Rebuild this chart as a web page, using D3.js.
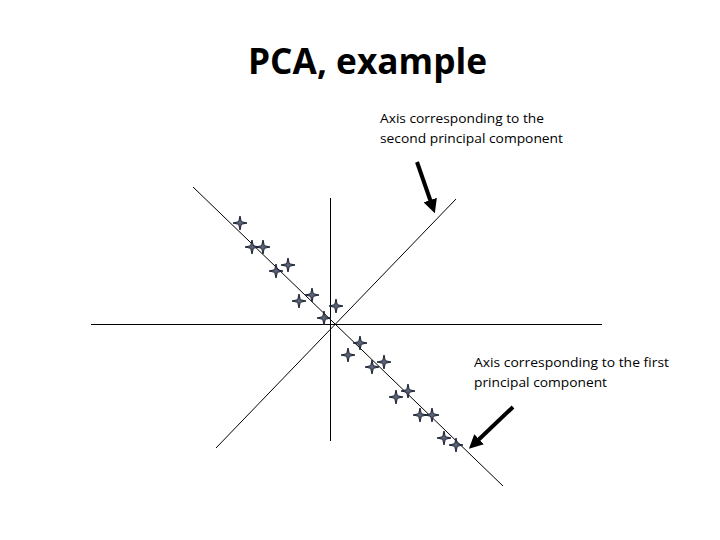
<!DOCTYPE html>
<html>
<head>
<meta charset="utf-8">
<script src="https://cdn.jsdelivr.net/npm/d3@7"></script>
<style>
  body { margin: 0; background: #fff; }
  svg text { font-family: 'Open Sans', Lato, sans-serif; fill: #000; }
</style>
</head>
<body>
<div id="chart"></div>
<script>
// sample points (x, y) in plot units, origin at axes crossing
const pointsX = [-9.0, -7.8, -6.7, -5.4, -4.2, -3.1, -1.8, -0.6, 0.6, 3.0, 1.8, 4.2, 5.4, 6.6, 7.8, 9.0, 10.2, 11.4, 12.6]
const pointsY = [10.1, 7.7, 7.7, 5.3, 5.9, 2.3, 2.9, 0.6, 1.8, -1.9, -3.1, -4.3, -3.8, -7.3, -6.7, -9.1, -9.1, -11.4, -12.1]

// axis lines: [x1, y1, x2, y2]
const plainAxes = [[-24, 0, 27.1, 0], [0, 12.7, 0, -11.6]]
const pcAxes = [[-13.7, 13.7, 17.3, -16.2], [-11.4, -12.4, 12.6, 12.5]]

// arrows: [fromX, fromY, toX, toY]
const arrows = [[8.7, 16.2, 10.3, 11.6], [18.3, -8.3, 14.3, -12.1]]

const title = 'PCA, example'
const labelSecond = ['Axis corresponding to the', 'second principal component']
const labelFirst = ['Axis corresponding to the first', 'principal component']

const width = 720
const height = 540

const svg = d3.select('#chart').append('svg')
  .attr('width', width)
  .attr('height', height)

// 10 px per unit, origin at (330, 324)
const x = d3.scaleLinear().domain([-24, 28]).range([90, 610])
const y = d3.scaleLinear().domain([-17, 17]).range([494, 154])

svg.append('text')
  .attr('x', 248)
  .attr('y', 74)
  .attr('textLength', 239)
  .attr('lengthAdjust', 'spacingAndGlyphs')
  .style('font-size', '36px')
  .style('font-weight', 'bold')
  .text(title)

svg.append('g').selectAll('line').data(plainAxes)
  .enter().append('line')
  .attr('x1', d => x(d[0]) + 0.5)
  .attr('y1', d => y(d[1]) + 0.5)
  .attr('x2', d => x(d[2]) + 0.5)
  .attr('y2', d => y(d[3]) + 0.5)
  .attr('stroke', '#000')
  .attr('stroke-width', 1)
  .attr('shape-rendering', 'crispEdges')

svg.append('g').selectAll('line').data(pcAxes)
  .enter().append('line')
  .attr('x1', d => x(d[0]))
  .attr('y1', d => y(d[1]))
  .attr('x2', d => x(d[2]))
  .attr('y2', d => y(d[3]))
  .attr('stroke', '#000')
  .attr('stroke-width', 1)

svg.append('defs').append('marker')
  .attr('id', 'head')
  .attr('viewBox', '0 0 10 10')
  .attr('refX', 6)
  .attr('refY', 5)
  .attr('markerWidth', 3.5)
  .attr('markerHeight', 3.5)
  .attr('orient', 'auto')
  .append('path')
  .attr('d', 'M0,0 L10,5 L0,10 Z')
  .attr('fill', '#000')

svg.append('g').selectAll('line').data(arrows)
  .enter().append('line')
  .attr('x1', d => x(d[0]))
  .attr('y1', d => y(d[1]))
  .attr('x2', d => x(d[2]))
  .attr('y2', d => y(d[3]))
  .attr('stroke', '#000')
  .attr('stroke-width', 4)
  .attr('marker-end', 'url(#head)')

const star = 'M0,-7 L1.3,-1.3 L7,0 L1.3,1.3 L0,7 L-1.3,1.3 L-7,0 L-1.3,-1.3 Z'
svg.append('g').selectAll('path').data(pointsX)
  .enter().append('path')
  .attr('d', star)
  .attr('transform', (d, i) => `translate(${x(d)},${y(pointsY[i])})`)
  .attr('fill', '#5d6678')
  .attr('stroke', '#1c2233')
  .attr('stroke-width', 1)

function label (lines, x0, y0, widths) {
  const g = svg.append('g')
  lines.forEach((t, i) => {
    g.append('text')
      .attr('x', x0)
      .attr('y', y0 + i * 19.5)
      .attr('textLength', widths[i])
      .attr('lengthAdjust', 'spacingAndGlyphs')
      .style('font-size', '13px')
      .text(t)
  })
}

label(labelSecond, 380, 123, [164, 183])
label(labelFirst, 474, 367, [195, 133])
</script>
</body>
</html>
